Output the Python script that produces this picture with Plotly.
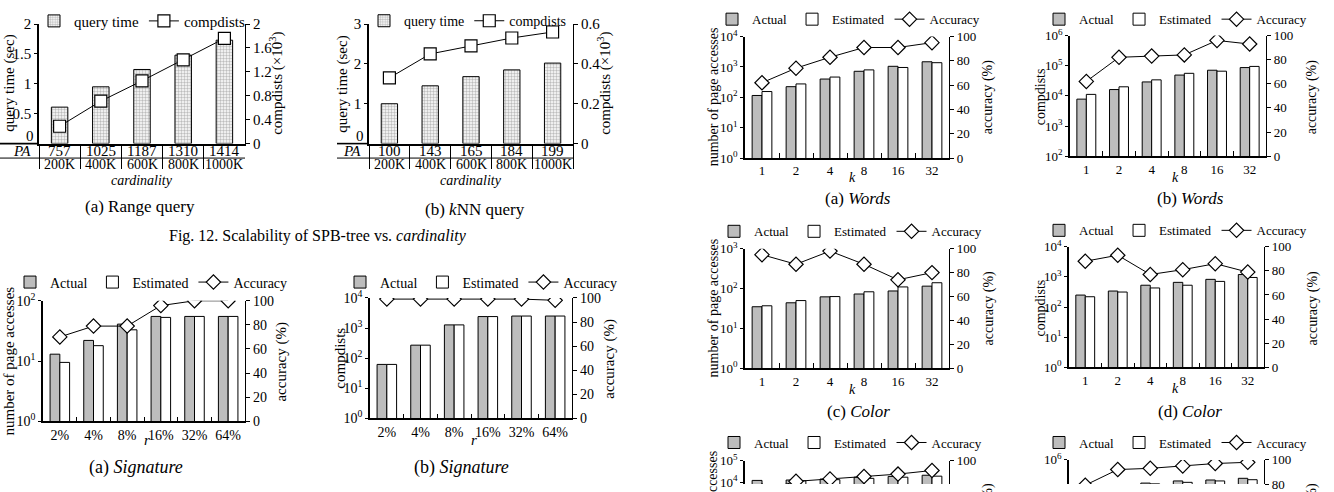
import plotly.graph_objects as go

W, H = 1334, 492
OFF = 12              # hidden strip above the visible page so top legends are not clamped
HT = H + OFF
FONT = "Liberation Serif"


def X(px):
    return px / W


def Y(py):
    return 1 - (py + OFF) / HT


# ---------------- data ----------------
card_cats = ["200K", "400K", "600K", "800K", "1000K"]
range_qtime = [0.61, 0.95, 1.24, 1.48, 1.73]
range_compdists = [0.29, 0.71, 1.05, 1.40, 1.76]
range_pa = [757, 1025, 1187, 1310, 1414]
knn_qtime = [1.0, 1.45, 1.68, 1.85, 2.02]
knn_compdists = [0.33, 0.45, 0.49, 0.53, 0.56]
knn_pa = [100, 143, 165, 184, 199]

r_cats = ["2%", "4%", "8%", "16%", "32%", "64%"]
sig_pa_actual = [13, 22, 41, 55, 55, 55]
sig_pa_est = [9.5, 18, 33, 53, 55, 55]
sig_pa_acc = [70, 79, 79, 96, 100, 100]
sig_cd_actual = [62, 270, 1270, 2400, 2500, 2500]
sig_cd_est = [62, 270, 1270, 2400, 2500, 2500]
sig_cd_acc = [99, 99, 99, 99, 99, 98]

k_cats = ["1", "2", "4", "8", "16", "32"]
words_pa_actual = [115, 224, 400, 720, 1050, 1480]
words_pa_est = [155, 276, 465, 800, 960, 1380]
words_pa_acc = [62, 74, 83, 91, 91, 95]
words_cd_actual = [7800, 16200, 29000, 49000, 71000, 87000]
words_cd_est = [11200, 20000, 34000, 56000, 66000, 95000]
words_cd_acc = [62, 82, 83, 84, 96, 93]
color_pa_actual = [35, 44, 62, 73, 87, 115]
color_pa_est = [37, 50, 63, 83, 110, 140]
color_pa_acc = [95, 87, 98, 87, 74, 80]
color_cd_actual = [250, 340, 530, 660, 830, 1200]
color_cd_est = [220, 315, 430, 530, 710, 960]
color_cd_acc = [88, 93, 77, 81, 86, 79]
third_pa_actual = [12000, 12500, 14000, 17000, 18500, 21000]
third_pa_est = [7000, 11500, 13000, 15000, 17000, 19000]
third_pa_acc = [75, 83, 85, 87, 89, 92]
third_cd_actual = [60000, 150000, 170000, 200000, 215000, 245000]
third_cd_est = [45000, 130000, 160000, 180000, 200000, 220000]
third_cd_acc = [79, 92, 93, 95, 97, 98]

GRAY = "#bdbdbd"
fig = go.Figure()
layout = {}
annotations = []
shapes = []


def nm(kind, i):
    return kind if i == 1 else f"{kind}{i}"


def key(kind, i):
    return kind + "axis" + ("" if i == 1 else str(i))


def log_ticks(lo, hi):
    vals = [10 ** e for e in range(lo, hi + 1)]
    txt = [f"10<sup>{e}</sup>" for e in range(lo, hi + 1)]
    return vals, txt


def panel(i, xl, xr, yt, yb, cats, bars, line, y1, y2, leg_xy, leg_size=13,
          tick_size=13, xstyle="normal"):
    xa, ya, yb2 = nm("x", i), nm("y", 2 * i - 1), nm("y", 2 * i)
    lg = "legend" if i == 1 else f"legend{i}"
    for b in bars:
        fig.add_trace(go.Bar(x=cats, y=b["y"], name=b["name"], xaxis=xa, yaxis=ya,
                             legend=lg, marker=b["marker"], width=b.get("width")))
    fig.add_trace(go.Scatter(x=cats, y=line["y"], name=line["name"], xaxis=xa, yaxis=yb2,
                             legend=lg, mode="lines+markers",
                             line=dict(color="black", width=1),
                             marker=dict(symbol=line["symbol"], size=line["size"], color="white",
                                         line=dict(color="black", width=1.2))))
    tf = dict(family=FONT, size=tick_size, color="black")
    xcfg = dict(domain=[X(xl), X(xr)], anchor=ya, type="category", range=[-0.5, len(cats) - 0.5],
                showline=True, linecolor="black", linewidth=1.6, showgrid=False, zeroline=False,
                tickson="boundaries", tickfont=tf, ticklen=5, tickwidth=1, tickcolor="black",
                ticks="inside", tickangle=0)
    if xstyle == "table":
        xcfg.update(ticks="outside", ticklen=24, showticklabels=False)
    elif xstyle == "hidden":
        xcfg.update(showline=False, ticks="", showticklabels=False)
    layout[key("x", i)] = xcfg
    c1 = dict(domain=[Y(yb), Y(yt)], anchor=xa, showline=True, linecolor="black", linewidth=1.6,
              showgrid=False, zeroline=False, ticks="outside", ticklen=3, tickwidth=1,
              tickcolor="black", tickfont=tf)
    c1.update(y1)
    layout[key("y", 2 * i - 1)] = c1
    c2 = dict(overlaying=ya, anchor=xa, side="right", showline=True, linecolor="black",
              linewidth=1.2, showgrid=False, zeroline=False, ticks="outside", ticklen=4,
              tickwidth=1, tickcolor="black", tickfont=tf)
    c2.update(y2)
    layout[key("y", 2 * i)] = c2
    layout[lg] = dict(x=X(leg_xy[0]), y=Y(leg_xy[1]), xanchor="left", yanchor="middle",
                      orientation="h", bgcolor="rgba(0,0,0,0)", borderwidth=0,
                      font=dict(family=FONT, size=leg_size, color="black"),
                      itemwidth=30, tracegroupgap=0, traceorder="normal")


def text(x, y, s, size=14, angle=0, xref="paper"):
    annotations.append(dict(x=X(x) if xref == "paper" else x, y=Y(y), xref=xref, yref="paper",
                            text=s, showarrow=False, textangle=angle, xanchor="center",
                            yanchor="middle", font=dict(family=FONT, size=size, color="black")))


pat = dict(color="white", line=dict(color="black", width=1),
           pattern=dict(shape=".", fgcolor="#7a7a7a", bgcolor="white", size=3, solidity=0.5))
act = dict(color=GRAY, line=dict(color="black", width=1))
est = dict(color="white", line=dict(color="black", width=1))
acc_line = lambda v: dict(y=v, name="Accuracy", symbol="diamond", size=11)
bars2 = lambda a, e: [dict(y=a, name="Actual", marker=act), dict(y=e, name="Estimated", marker=est)]
acc_axis = dict(range=[0, 100], tickvals=[0, 20, 40, 60, 80, 100])

# ---- Fig. 12 panels ----
panel(1, 39, 245, 15, 139, card_cats,
      [dict(y=range_qtime, name="query time", marker=pat, width=0.4)],
      dict(y=range_compdists, name="compdists", symbol="square", size=12),
      dict(range=[0, 2], tickvals=[0, 0.5, 1, 1.5, 2], ticktext=["", "0.5", "1", "1.5", "2"]),
      dict(range=[0, 2], tickvals=[0, 0.4, 0.8, 1.2, 1.6, 2], ticktext=["0", "0.4", "0.8", "1.2", "1.6", "2"]),
      (34, 12), leg_size=15, tick_size=15, xstyle="table")
panel(2, 369, 573, 15, 139, card_cats,
      [dict(y=knn_qtime, name="query time", marker=pat, width=0.4)],
      dict(y=knn_compdists, name="compdists", symbol="square", size=12),
      dict(range=[0, 3], tickvals=[0, 1, 2, 3], ticktext=["", "1", "2", "3"]),
      dict(range=[0, 0.6], tickvals=[0, 0.2, 0.4, 0.6], ticktext=["0", "0.2", "0.4", "0.6"]),
      (364, 12), leg_size=14, tick_size=15, xstyle="table")

# the "0" of the left axes sits just above the PA table
for i, lx in ((1, 39), (2, 369)):
    annotations.append(dict(x=X(lx - 9), y=0, xref="paper", yref=nm("y", 2 * i - 1), yshift=8,
                            text="0", showarrow=False, xanchor="center", yanchor="middle",
                            font=dict(family=FONT, size=15, color="black")))

for i, (x0, x1, pa) in enumerate([(0, 245, range_pa), (337, 573, knn_pa)], start=1):
    xa = nm("x", i)
    lx = 39 if i == 1 else 369
    shapes.append(dict(type="line", xref="paper", yref="paper", x0=X(x0), x1=X(lx), y0=Y(139), y1=Y(139),
                       line=dict(color="black", width=1.6)))
    shapes.append(dict(type="line", xref="paper", yref="paper", x0=X(x0), x1=X(x1), y0=Y(154), y1=Y(154),
                       line=dict(color="black", width=1)))
    text(x0 + 22 if i == 1 else 352, 147, "<i>PA</i>", size=15)
    for j, c in enumerate(card_cats):
        text(j, 147, str(pa[j]), size=15, xref=xa)
        text(j, 161, c, size=14, xref=xa)

text(10, 77, "query time (sec)", 15, -90)
text(277, 77, "compdists (×10<sup>3</sup>)", 15, -90)
text(343, 77, "query time (sec)", 15, -90)
text(605, 77, "compdists (×10<sup>3</sup>)", 15, -90)
text(142, 177, "<i>cardinality</i>", 14)
text(471, 177, "<i>cardinality</i>", 14)
text(140, 204, "(a) Range query", 17)
text(475, 207, "(b) <i>k</i>NN query", 17)
text(318, 235, "Fig. 12. Scalability of SPB-tree vs. <i>cardinality</i>", 16)

# ---- Signature panels ----
v, t = log_ticks(0, 2)
panel(3, 43, 245, 302, 427, r_cats, bars2(sig_pa_actual, sig_pa_est), acc_line(sig_pa_acc),
      dict(type="log", range=[0, 2], tickvals=v, ticktext=t), acc_axis, (10, 283), tick_size=14, leg_size=14)
v, t = log_ticks(0, 4)
panel(4, 370, 572, 299, 424, r_cats, bars2(sig_cd_actual, sig_cd_est), acc_line(sig_cd_acc),
      dict(type="log", range=[0, 4], tickvals=v, ticktext=t), acc_axis, (340, 283), tick_size=14, leg_size=14)
text(9, 365, "number of page accesses", 15, -90)
text(282, 365, "accuracy (%)", 15, -90)
text(340, 362, "compdists", 15, -90)
text(610, 362, "accuracy (%)", 15, -90)
text(147, 446, "<i>r</i>", 15)
text(474, 446, "<i>r</i>", 15)
text(136, 475, "(a) <i>Signature</i>", 18)
text(461, 475, "(b) <i>Signature</i>", 18)

# ---- right column ----
v, t = log_ticks(0, 4)
panel(5, 745, 949, 28, 154, k_cats, bars2(words_pa_actual, words_pa_est), acc_line(words_pa_acc),
      dict(type="log", range=[0, 4], tickvals=v, ticktext=t), acc_axis, (712, 10))
v, t = log_ticks(2, 6)
panel(6, 1070, 1266, 27, 152, k_cats, bars2(words_cd_actual, words_cd_est), acc_line(words_cd_acc),
      dict(type="log", range=[2, 6], tickvals=v, ticktext=t), acc_axis, (1039, 10))
v, t = log_ticks(0, 3)
panel(7, 745, 949, 248, 372, k_cats, bars2(color_pa_actual, color_pa_est), acc_line(color_pa_acc),
      dict(type="log", range=[0, 3], tickvals=v, ticktext=t), acc_axis, (714, 230))
v, t = log_ticks(0, 4)
panel(8, 1069, 1264, 246, 371, k_cats, bars2(color_cd_actual, color_cd_est), acc_line(color_cd_acc),
      dict(type="log", range=[0, 4], tickvals=v, ticktext=t), acc_axis, (1039, 229))
v, t = log_ticks(4, 5)
panel(9, 745, 949, 468, 492, k_cats, bars2(third_pa_actual, third_pa_est), acc_line(third_pa_acc),
      dict(type="log", range=[3.91, 5], tickvals=v, ticktext=t),
      dict(range=[80.8, 100], tickvals=[80, 100]), (714, 449), xstyle="hidden")
v, t = log_ticks(5, 6)
panel(10, 1069, 1264, 467, 492, k_cats, bars2(third_cd_actual, third_cd_est), acc_line(third_cd_acc),
      dict(type="log", range=[5.2, 6], tickvals=v, ticktext=t),
      dict(range=[80, 100], tickvals=[80, 100]), (1039, 449), xstyle="hidden")

for yc in (91, 310, 530):
    text(713, yc, "number of page accesses", 14, -90)
    text(988, yc, "accuracy (%)", 14, -90)
    text(1040, yc, "compdists", 14, -90)
    text(1312, yc, "accuracy (%)", 14, -90)
text(852, 174, "<i>k</i>", 14)
text(1175, 174, "<i>k</i>", 14)
text(852, 394, "<i>k</i>", 14)
text(1175, 393, "<i>k</i>", 14)
text(858, 196, "(a) <i>Words</i>", 17)
text(1190, 196, "(b) <i>Words</i>", 17)
text(858, 417, "(c) <i>Color</i>", 17)
text(1190, 417, "(d) <i>Color</i>", 17)

fig.update_layout(**layout)
fig.update_layout(width=W, height=HT, margin=dict(l=0, r=0, t=0, b=0), paper_bgcolor="white",
                  plot_bgcolor="rgba(0,0,0,0)", barmode="group", bargap=0.42, bargroupgap=0,
                  font=dict(family=FONT, color="black"), annotations=annotations, shapes=shapes)
fig.write_html("out.html", config={"displayModeBar": False},
               post_script=("document.documentElement.style.overflow='hidden';"
                            "document.body.style.overflow='hidden';"
                            "document.body.style.margin='-%dpx 0px 0px 0px';" % OFF))
